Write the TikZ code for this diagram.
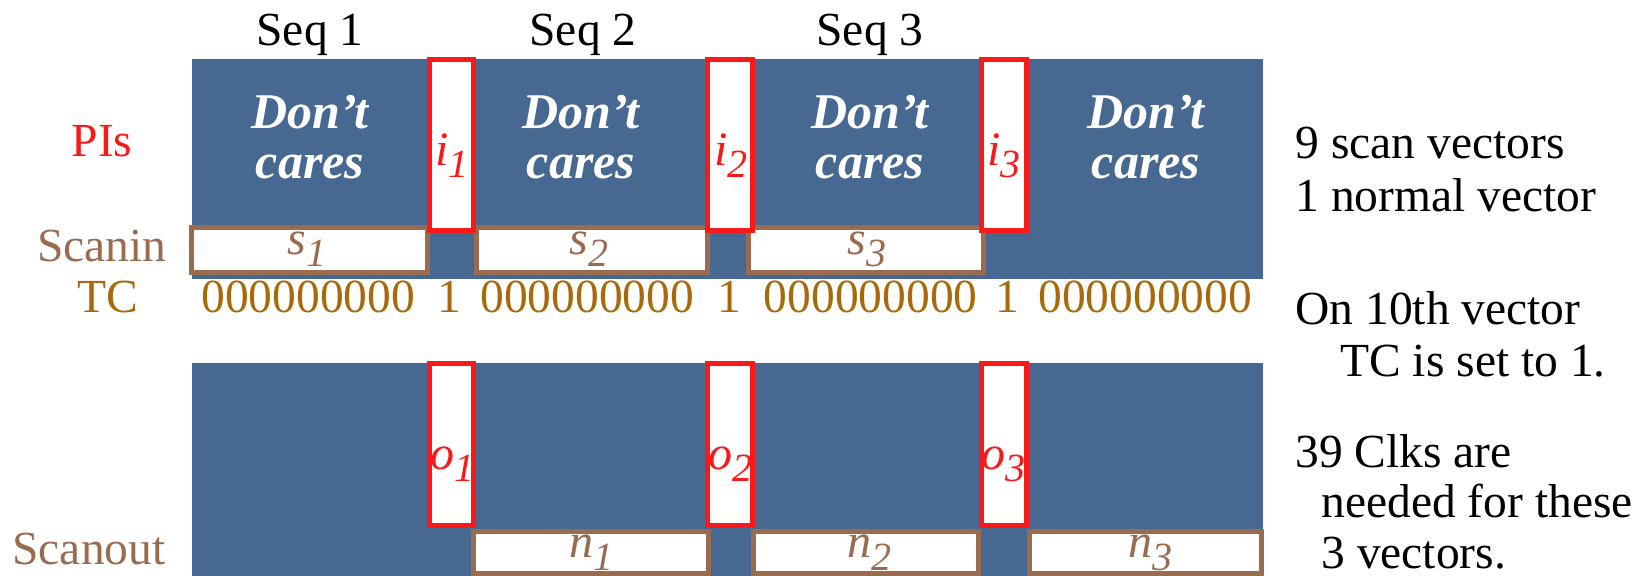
\documentclass[tikz,border=0pt]{standalone}
\usepackage{fontspec}
\setmainfont{Liberation Serif}
\usetikzlibrary{fit}
\definecolor{bluefill}{RGB}{71,104,144}
\definecolor{redline}{RGB}{250,25,25}
\definecolor{brownline}{RGB}{153,108,80}
\definecolor{tccol}{RGB}{168,105,10}
\newcommand\bigfs{\fontsize{23.75pt}{26pt}\selectfont}
\newcommand\subfs{\fontsize{20pt}{20pt}\selectfont}
\newcommand\lbl[2]{#1\raisebox{-6pt}{\subfs #2}}
\begin{document}
\begin{tikzpicture}[x=0.5pt,y=-0.5pt,
  panel/.style={fill=bluefill, draw=none, inner sep=0pt, outer sep=0pt},
  redbox/.style={draw=redline, line width=2.5pt, fill=white, inner sep=0pt},
  brownbox/.style={draw=brownline, line width=2.5pt, fill=white, inner sep=0pt},
  txt/.style={font=\bigfs, inner sep=0pt, anchor=base},
  rtxt/.style={font=\bigfs, inner sep=0pt, anchor=base west},
  dc/.style={font=\fontsize{25pt}{25pt}\selectfont\bfseries\itshape, text=white, inner sep=0pt, anchor=base},
  redlbl/.style={font=\fontsize{24pt}{24pt}\selectfont\itshape, text=redline, inner sep=0pt, anchor=base},
  brlbl/.style={font=\fontsize{24pt}{24pt}\selectfont\itshape, text=brownline, inner sep=0pt, anchor=base},
]
\useasboundingbox (0,0) rectangle (1643,576);

% panels
\node[panel, fit={(192,59.3) (1262.5,279.3)}] (toppanel) {};
\node[panel, fit={(192,362.7) (1262.5,576)}] (botpanel) {};

% scanin boxes
\node[brownbox, fit={(191.5,227.5) (427.5,272.5)}] (s1box) {};
\node[brownbox, fit={(476.5,227.5) (707.5,272.5)}] (s2box) {};
\node[brownbox, fit={(748.5,227.5) (983.5,272.5)}] (s3box) {};

% scanout boxes
\node[brownbox, fit={(473.5,531.5) (708.5,573.5)}] (n1box) {};
\node[brownbox, fit={(753.5,531.5) (978.5,573.5)}] (n2box) {};
\node[brownbox, fit={(1029.5,531.5) (1261.5,573.5)}] (n3box) {};

% red input boxes
\node[redbox, fit={(429.5,59.8) (473.5,230.2)}] (i1box) {};
\node[redbox, fit={(707.5,59.8) (752.5,230.2)}] (i2box) {};
\node[redbox, fit={(981.5,59.8) (1026.5,230.2)}] (i3box) {};

% red output boxes
\node[redbox, fit={(429.5,363.5) (473.5,525.5)}] (o1box) {};
\node[redbox, fit={(707.5,363.5) (752.5,525.5)}] (o2box) {};
\node[redbox, fit={(981.5,363.5) (1026.5,525.5)}] (o3box) {};

% seq labels
\node[txt] (seq1) at (310,46) {Seq 1};
\node[txt] (seq2) at (583,46) {Seq 2};
\node[txt] (seq3) at (870,46) {Seq 3};

% left labels
\node[txt, text=redline] (pis) at (102,157) {PIs};
\node[txt, text=brownline] (scanin) at (102,262) {Scanin};
\node[txt, text=tccol] (tc) at (108,313) {TC};
\node[txt, text=brownline] (scanout) at (89,565) {Scanout};

% don't cares
\node[dc] (dc1a) at (310,129) {Don’t};
\node[dc] (dc1b) at (310,179) {cares};
\node[dc] (dc2a) at (581,129) {Don’t};
\node[dc] (dc2b) at (581,179) {cares};
\node[dc] (dc3a) at (870,129) {Don’t};
\node[dc] (dc3b) at (870,179) {cares};
\node[dc] (dc4a) at (1146,129) {Don’t};
\node[dc] (dc4b) at (1146,179) {cares};

% i labels
\node[redlbl] (i1) at (452,166) {\lbl{i}{1}};
\node[redlbl] (i2) at (731,166) {\lbl{i}{2}};
\node[redlbl] (i3) at (1004,166) {\lbl{i}{3}};

% o labels
\node[redlbl] (o1) at (452,470) {\lbl{o}{1}};
\node[redlbl] (o2) at (730,470) {\lbl{o}{2}};
\node[redlbl] (o3) at (1003,470) {\lbl{o}{3}};

% s labels
\node[brlbl] (s1) at (307,255) {\lbl{s}{1}};
\node[brlbl] (s2) at (589,255) {\lbl{s}{2}};
\node[brlbl] (s3) at (867,255) {\lbl{s}{3}};

% n labels
\node[brlbl] (n1) at (591,558) {\lbl{n}{1}};
\node[brlbl] (n2) at (869,558) {\lbl{n}{2}};
\node[brlbl] (n3) at (1150,558) {\lbl{n}{3}};

% TC values
\node[rtxt, text=tccol] (z1) at (201,313) {000000000};
\node[txt, text=tccol] (one1) at (449,313) {1};
\node[rtxt, text=tccol] (z2) at (480,313) {000000000};
\node[txt, text=tccol] (one2) at (729,313) {1};
\node[rtxt, text=tccol] (z3) at (763.5,313) {000000000};
\node[txt, text=tccol] (one3) at (1007,313) {1};
\node[rtxt, text=tccol] (z4) at (1038,313) {000000000};

% right notes
\node[rtxt] (r1) at (1295,159) {9 scan vectors};
\node[rtxt] (r2) at (1295,212) {1 normal vector};
\node[rtxt] (r3) at (1295,325) {On 10th vector};
\node[rtxt] (r4) at (1340,377) {TC is set to 1.};
\node[rtxt] (r5) at (1295,468) {39 Clks are};
\node[rtxt] (r6) at (1321,518) {needed for these};
\node[rtxt] (r7) at (1321,568) {3 vectors.};
\end{tikzpicture}
\end{document}
